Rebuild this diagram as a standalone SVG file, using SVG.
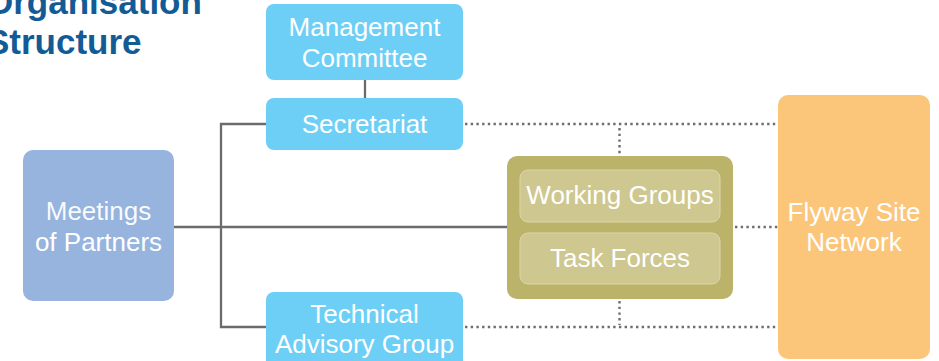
<svg xmlns="http://www.w3.org/2000/svg" width="939" height="361" viewBox="0 0 939 361">
<style>
.lbl{font-family:"Liberation Sans",Arial,sans-serif;font-size:26px;fill:#ffffff;text-anchor:middle}
.title{font-family:"Liberation Sans",Arial,sans-serif;font-size:35px;font-weight:bold;fill:#125B95}
.blue{fill:#6DCFF6}
.solid{stroke:#6B6B6B;stroke-width:2.3;fill:none}
.dot{stroke:#6E6E6E;stroke-width:2.4;stroke-dasharray:2.4 3.3;fill:none}
</style>
<rect width="939" height="361" fill="#ffffff"/>
<g id="title">
<text class="title" x="-14" y="14">Organisation</text>
<text class="title" x="-14" y="54">Structure</text>
</g>
<g id="connectors">
<line class="solid" x1="365" y1="80" x2="365" y2="98"/>
<polyline class="solid" points="266,124 221,124 221,327 266,327"/>
<line class="solid" x1="174" y1="227" x2="507" y2="227"/>
<line class="dot" x1="465" y1="124" x2="778" y2="124"/>
<line class="dot" x1="465" y1="327" x2="778" y2="327"/>
<line class="dot" x1="735" y1="227" x2="778" y2="227"/>
<line class="dot" x1="619.5" y1="128" x2="619.5" y2="156"/>
<line class="dot" x1="619.5" y1="301" x2="619.5" y2="325"/>
</g>
<g id="management-committee">
<rect class="blue" x="266" y="4" width="197" height="76" rx="8"/>
<text class="lbl" x="364.5" y="36">Management</text>
<text class="lbl" x="364.5" y="67">Committee</text>
</g>
<g id="secretariat">
<rect class="blue" x="266" y="98" width="197" height="52" rx="8"/>
<text class="lbl" x="364.5" y="133">Secretariat</text>
</g>
<g id="meetings-of-partners">
<rect x="23" y="150" width="151" height="151" rx="10" fill="#96B4DE"/>
<text class="lbl" x="98.5" y="220" fill-opacity="0.95">Meetings</text>
<text class="lbl" x="98.5" y="250.5">of Partners</text>
</g>
<g id="technical-advisory-group">
<rect class="blue" x="266" y="292" width="197" height="80" rx="8"/>
<text class="lbl" x="364.5" y="323">Technical</text>
<text class="lbl" x="364.5" y="353">Advisory Group</text>
</g>
<g id="working-groups-container">
<rect x="507" y="156" width="226" height="143" rx="10" fill="#BCB36B"/>
</g>
<g id="working-groups">
<rect x="520" y="170" width="200" height="52" rx="8" fill="#CEC78F" stroke="#DCD6A8" stroke-width="1"/>
<text class="lbl" x="620" y="204">Working Groups</text>
</g>
<g id="task-forces">
<rect x="520" y="233" width="200" height="51" rx="8" fill="#CEC78F" stroke="#DCD6A8" stroke-width="1"/>
<text class="lbl" x="620" y="267">Task Forces</text>
</g>
<g id="flyway-site-network">
<rect x="778" y="95" width="152" height="264" rx="10" fill="#FBC67A"/>
<text class="lbl" x="854" y="221">Flyway Site</text>
<text class="lbl" x="854" y="251">Network</text>
</g>
</svg>
